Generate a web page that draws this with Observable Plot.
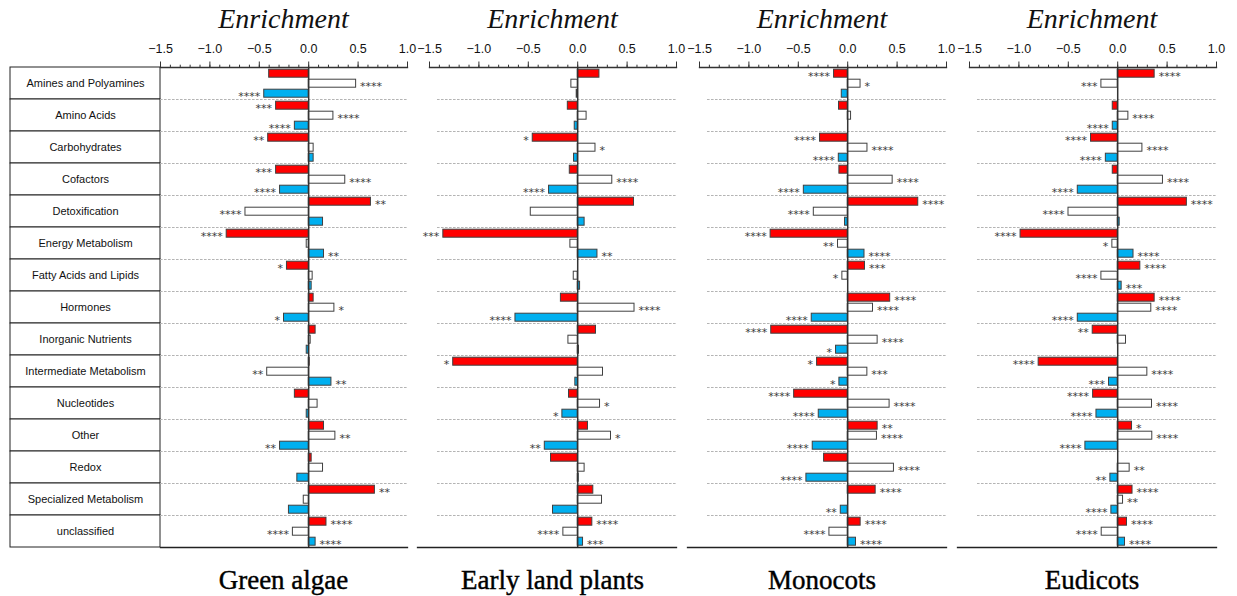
<!DOCTYPE html>
<html>
<head>
<meta charset="utf-8">
<script src="https://cdn.jsdelivr.net/npm/d3@7"></script>
<script src="https://cdn.jsdelivr.net/npm/@observablehq/plot@0.6"></script>
<style>
  body { margin: 0; background: #fff; }
  #chart { position: relative; width: 1237px; height: 596px; overflow: hidden; background: #fff; }
  #chart > * { position: absolute; }
  .title { font-family: "Liberation Serif", "Times New Roman", serif; font-style: italic; font-size: 28px; line-height: 28px; text-align: center; width: 260px; color: #111; }
  .name { font-family: "Liberation Serif", "Times New Roman", serif; font-size: 27px; line-height: 27px; text-align: center; width: 300px; color: #000; -webkit-text-stroke: 0.4px #000; }
</style>
</head>
<body>
<div id="chart"></div>
<script>
// ---------- data ----------
const categories = [
  "Amines and Polyamines", "Amino Acids", "Carbohydrates", "Cofactors", "Detoxification",
  "Energy Metabolism", "Fatty Acids and Lipids", "Hormones", "Inorganic Nutrients",
  "Intermediate Metabolism", "Nucleotides", "Other", "Redox", "Specialized Metabolism", "unclassified"
];
const panels = ["Green algae", "Early land plants", "Monocots", "Eudicots"];
const seriesKeys = ["Set 1", "Set 2", "Set 3"];
const seriesColors = ["#ff0000", "#ffffff", "#00b0f0"];
const majorTicks = [-1.5, -1.0, -0.5, 0.0, 0.5, 1.0];
const minorTicks = d3.range(-15, 11).map(i => i / 10);

// Green algae
const greenAlgaeSet1 = [-0.40, -0.33, -0.41, -0.33, 0.63, -0.83, -0.22, 0.05, 0.07, 0.01, -0.14, 0.155, 0.03, 0.67, 0.18];
const greenAlgaeSet2 = [0.48, 0.25, 0.05, 0.37, -0.64, -0.02, 0.04, 0.26, 0.02, -0.42, 0.09, 0.27, 0.145, -0.05, -0.16];
const greenAlgaeSet3 = [-0.45, -0.14, 0.05, -0.29, 0.145, 0.155, 0.03, -0.25, -0.02, 0.23, -0.02, -0.29, -0.115, -0.20, 0.07];
const greenAlgaeSig1 = ["", "***", "**", "***", "**", "****", "*", "", "", "", "", "", "", "**", "****"];
const greenAlgaeSig2 = ["****", "****", "", "****", "****", "", "", "*", "", "**", "", "**", "", "", "****"];
const greenAlgaeSig3 = ["****", "****", "", "****", "", "**", "", "*", "", "**", "", "**", "", "", "****"];

// Early land plants
const earlySet1 = [0.22, -0.10, -0.455, -0.08, 0.57, -1.36, 0, -0.17, 0.185, -1.26, -0.088, 0.104, -0.27, 0.158, 0.148];
const earlySet2 = [-0.064, 0.09, 0.18, 0.35, -0.475, -0.074, -0.04, 0.575, -0.094, 0.256, 0.226, 0.337, 0.07, 0.246, -0.145];
const earlySet3 = [-0.01, -0.03, -0.037, -0.29, 0.07, 0.20, 0.024, -0.63, 0.013, -0.024, -0.155, -0.333, 0.01, -0.25, 0.054];
const earlySig1 = ["", "", "*", "", "", "***", "", "", "", "*", "", "", "", "", "****"];
const earlySig2 = ["", "", "*", "****", "", "", "", "****", "", "", "*", "*", "", "", "****"];
const earlySig3 = ["", "", "", "****", "", "**", "", "****", "", "", "*", "**", "", "", "***"];

// Monocots
const monocotsSet1 = [-0.138, -0.088, -0.28, -0.084, 0.714, -0.78, 0.175, 0.43, -0.774, -0.31, -0.542, 0.303, -0.239, 0.283, 0.131];
const monocotsSet2 = [0.13, 0.034, 0.20, 0.455, -0.343, -0.098, -0.054, 0.256, 0.303, 0.199, 0.424, 0.296, 0.468, 0, -0.185];
const monocotsSet3 = [-0.06, 0, -0.09, -0.444, -0.027, 0.17, 0, -0.364, -0.118, -0.084, -0.293, -0.354, -0.418, -0.07, 0.084];
const monocotsSig1 = ["****", "", "****", "", "****", "****", "***", "****", "****", "*", "****", "**", "", "****", "****"];
const monocotsSig2 = ["*", "", "****", "****", "****", "**", "*", "****", "****", "***", "****", "****", "****", "", "****"];
const monocotsSig3 = ["", "", "****", "****", "", "****", "", "****", "*", "*", "****", "****", "****", "**", "****"];

// Eudicots
const eudicotsSet1 = [0.374, -0.05, -0.27, -0.05, 0.70, -0.983, 0.229, 0.374, -0.253, -0.80, -0.249, 0.145, 0, 0.15, 0.094];
const eudicotsSet2 = [-0.165, 0.108, 0.25, 0.458, -0.498, -0.054, -0.165, 0.34, 0.084, 0.30, 0.347, 0.35, 0.121, 0.054, -0.162];
const eudicotsSet3 = [0, -0.05, -0.12, -0.404, 0.02, 0.16, 0.04, -0.404, 0, -0.088, -0.215, -0.327, -0.074, -0.064, 0.074];
const eudicotsSig1 = ["****", "", "****", "", "****", "****", "****", "****", "**", "****", "****", "*", "", "****", "****"];
const eudicotsSig2 = ["***", "****", "****", "****", "****", "*", "****", "****", "", "****", "****", "****", "**", "**", "****"];
const eudicotsSig3 = ["", "****", "****", "****", "", "****", "***", "****", "", "***", "****", "****", "**", "****", "****"];

const panelData = [
  {values: [greenAlgaeSet1, greenAlgaeSet2, greenAlgaeSet3], sigs: [greenAlgaeSig1, greenAlgaeSig2, greenAlgaeSig3]},
  {values: [earlySet1, earlySet2, earlySet3], sigs: [earlySig1, earlySig2, earlySig3]},
  {values: [monocotsSet1, monocotsSet2, monocotsSet3], sigs: [monocotsSig1, monocotsSig2, monocotsSig3]},
  {values: [eudicotsSet1, eudicotsSet2, eudicotsSet3], sigs: [eudicotsSig1, eudicotsSig2, eudicotsSig3]}
];

// ---------- layout ----------
const chart = document.getElementById("chart");
const H = 552, MT = 63.8, MB = 2;
const panelLeft = [160, 429, 698.5, 968.5]; // pixel position of x = -1.5 in each panel
const PW = 247, PM = 12;

// left category table
const table = Plot.plot({
  width: 162, height: H,
  marginLeft: 10, marginRight: 2, marginTop: MT, marginBottom: MB,
  style: {background: "transparent", overflow: "visible", fontFamily: "Liberation Sans, Arial, sans-serif"},
  y: {domain: categories, padding: 0, axis: null},
  marks: [
    Plot.cell(categories, {y: d => d, fill: "white", stroke: "#222", strokeWidth: 1}),
    Plot.text(categories, {y: d => d, text: d => d, fontSize: 11, fill: "#111"})
  ]
});
table.style.left = "0px";
table.style.top = "0px";
chart.appendChild(table);

panels.forEach((name, p) => {
  const {values, sigs} = panelData[p];
  const rows = categories.flatMap((c, i) => seriesKeys.map((s, j) => ({
    category: c, series: s, value: values[j][i], sig: sigs[j][i]
  })));
  const first = p === 0;
  const sigStyle = {
    fy: "category", y: "series", x: "value", text: "sig",
    fontSize: 11, fontFamily: "DejaVu Sans, sans-serif", fill: "#3a3a3a", dy: 3.2,
    ariaLabel: "significance"
  };
  const svg = Plot.plot({
    width: PW + 2 * PM, height: H,
    marginLeft: PM, marginRight: PM, marginTop: MT, marginBottom: MB,
    style: {background: "transparent", overflow: "visible", fontFamily: "Liberation Sans, Arial, sans-serif"},
    x: {domain: [-1.5, 1.0]},
    y: {domain: seriesKeys, paddingInner: 0.23, paddingOuter: 0.13, axis: null},
    fy: {domain: categories, padding: 0, axis: null},
    color: {domain: seriesKeys, range: seriesColors},
    marks: [
      Plot.frame({anchor: "bottom", stroke: "#b4b4b4", strokeDasharray: "1.6,2.4", strokeWidth: 1, insetLeft: first ? 0 : 8}),
      Plot.axisX({anchor: "top", ticks: majorTicks, tickSize: 6.5, tickPadding: 8, tickFormat: d3.format(".1f"), fontSize: 12.5, label: null, stroke: "#333", fill: "#111"}),
      Plot.axisX({anchor: "top", ticks: minorTicks, tickSize: 3.3, tickFormat: () => "", label: null, stroke: "#333"}),
      Plot.barX(rows, {fy: "category", y: "series", x: "value", fill: "series", stroke: "#404040", strokeWidth: 1}),
      Plot.ruleX([0], {stroke: "#333", strokeWidth: 1.5}),
      Plot.text(rows.filter(d => d.sig && d.value > 0), {...sigStyle, textAnchor: "start", dx: 4}),
      Plot.text(rows.filter(d => d.sig && d.value < 0), {...sigStyle, textAnchor: "end", dx: -4}),
      Plot.frame({anchor: "top", facetAnchor: "top", stroke: "#333", strokeWidth: 1.3}),
      Plot.frame({anchor: "bottom", facetAnchor: "bottom", stroke: "#222", strokeWidth: 1.3, insetLeft: first ? 0 : -12})
    ]
  });
  d3.select(svg).selectAll('g[aria-label="significance"] text').style("letter-spacing", "1.6px");
  svg.style.left = (panelLeft[p] - PM) + "px";
  svg.style.top = "0px";
  chart.appendChild(svg);

  const center = panelLeft[p] + PW / 2;
  const t = document.createElement("div");
  t.className = "title";
  t.textContent = "Enrichment";
  t.style.left = (center - 130) + "px";
  t.style.top = "5px";
  chart.appendChild(t);

  const n = document.createElement("div");
  n.className = "name";
  n.textContent = name;
  n.style.left = (center - 150) + "px";
  n.style.top = "567px";
  chart.appendChild(n);
});
</script>
</body>
</html>
